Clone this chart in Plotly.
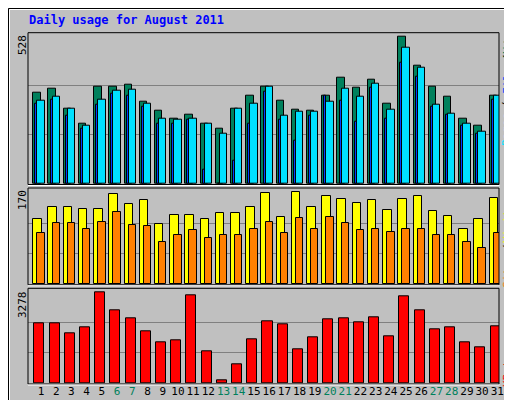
import plotly.graph_objects as go

days = list(range(1, 32))
day_labels = [str(d) for d in days]
weekend = {6, 7, 13, 14, 20, 21, 27, 28}
hits = [326,341,270,215,348,348,355,294,262,233,247,215,200,272,316,348,298,265,262,316,380,344,373,287,528,424,348,312,233,208,316]
pages = [298,312,270,211,301,334,337,287,236,229,236,215,179,272,287,348,244,258,258,294,343,312,359,265,488,416,283,254,218,186,316]
files = [290,301,244,200,283,323,316,276,215,215,229,53,2,85,218,330,229,157,244,316,298,222,344,236,434,384,276,247,211,179,301]
visits = [120,142,142,140,140,166,148,155,111,128,128,120,131,131,142,168,124,170,142,164,157,150,155,137,157,164,135,126,103,120,159]
sites = [94,113,113,103,116,133,109,107,78,92,100,85,92,91,102,116,94,122,103,124,113,100,103,96,103,103,91,92,78,68,94]
kbytes = [2161,2161,1801,2017,3278,2630,2341,1873,1477,1549,3170,1153,108,684,1585,2233,2125,1225,1657,2305,2341,2197,2377,1693,3134,2630,1945,2017,1477,1297,2053]

W, H = 512, 400
def py(p): return 1 - p / H
def px(p): return p / W

MONO = "DejaVu Sans Mono"
line = dict(color="black", width=1)
fig = go.Figure()
def bar(y, color, off, wid, ax):
    fig.add_trace(go.Bar(x=days, y=y, offset=off, width=wid, marker=dict(color=color, line=line),
                         xaxis="x", yaxis=ax, showlegend=False, hoverinfo="skip"))
bar(hits, "#00805c", -0.51, 0.49, "y")
bar(pages, "#00e0ff", -0.24, 0.48, "y")
bar(files, "#0040ff", -0.37, 0.13, "y")
bar(visits, "#ffff00", -0.51, 0.56, "y2")
bar(sites, "#ff8000", -0.24, 0.48, "y3")
bar(kbytes, "#ff0000", -0.44, 0.66, "y4")

xr = [0.145, 31.11]
ticktext = [f"<span style='color:#00805c'>{t}</span>" if d in weekend else t for d, t in zip(days, day_labels)]
fig.update_layout(
    width=W, height=H, margin=dict(l=0, r=0, t=0, b=0, autoexpand=False),
    paper_bgcolor="#c0c0c0", plot_bgcolor="#c0c0c0", barmode="overlay", bargap=0,
    font=dict(family=MONO, size=11, color="black"),
    xaxis=dict(range=xr, showgrid=False, zeroline=False, fixedrange=True, automargin=False,
               domain=[px(20), px(491)], anchor="y4", tickmode="array", tickvals=days,
               ticktext=ticktext, ticks="", tickangle=0, tickfont=dict(family=MONO, size=11)),
)
grid = dict(showgrid=True, gridcolor="#808080", gridwidth=1, zeroline=False, showticklabels=False,
            tickmode="array", automargin=False)
fig.update_layout(
    yaxis=dict(**grid, domain=[py(176), py(24.7)], range=[0, 543], tickvals=[176, 352], anchor="x"),
    yaxis2=dict(**grid, domain=[py(276.3), py(180)], range=[0, 178], tickvals=[56.7, 113.3], anchor="x"),
    yaxis3=dict(domain=[py(276.3), py(180)], range=[0, 178], overlaying="y2", visible=False),
    yaxis4=dict(**grid, domain=[py(375.3), py(280.3)], range=[0, 3422], tickvals=[1093, 2185], anchor="x"),
)

P = dict(xref="paper", yref="paper")
shapes = [
    dict(type="rect", **P, x0=px(0.5), x1=px(511.5), y0=py(399.5), y1=py(0.5), line=dict(color="black", width=1)),
    dict(type="line", **P, x0=px(1.5), x1=px(510), y0=py(1.5), y1=py(1.5), line=dict(color="white", width=1)),
    dict(type="line", **P, x0=px(1.5), x1=px(1.5), y0=py(1.5), y1=py(398), line=dict(color="white", width=1)),
    dict(type="line", **P, x0=px(3), x1=px(510.5), y0=py(396), y1=py(396), line=dict(color="#808080", width=3)),
    dict(type="line", **P, x0=px(509), x1=px(509), y0=py(3), y1=py(397), line=dict(color="#808080", width=3)),
]
for t, b in [(24.7, 176.5), (180, 276.8), (280.3, 376)]:
    shapes.append(dict(type="rect", **P, x0=px(20), x1=px(491), y0=py(b), y1=py(t),
                       line=dict(color="black", width=1), layer="above"))
    shapes.append(dict(type="line", **P, x0=px(20), x1=px(491.5), y0=py(b + 1), y1=py(b + 1),
                       line=dict(color="white", width=1)))
fig.update_layout(shapes=shapes)

ann = [dict(text="<b>Daily usage for August 2011</b>", **P, x=px(19), y=py(12), xanchor="left", yanchor="middle",
            font=dict(family=MONO, size=12, color="#0000ff"), showarrow=False)]
def vt(text, y, color, x=499):
    ann.append(dict(text=text, **P, x=px(x), y=py(y), xanchor="center", yanchor="middle", textangle=-90,
                    font=dict(family=MONO, size=11, color=color), showarrow=False))
vt("528", 37, "black", 14)
vt("170", 192, "black", 14)
vt("3278", 297, "black", 14)
vt("Hits", 37, "#00805c")
vt("/", 50, "black")
vt("Files", 70, "#0040ff")
vt("/", 97, "black")
vt("Pages", 122, "#00e0ff")
vt("Visits", 215, "#ffff00")
vt("/", 240, "black")
vt("Sites", 264, "#ff8000")
vt("KBytes", 359, "#ff0000")
fig.update_layout(annotations=ann)

fig.write_html("out.html")
